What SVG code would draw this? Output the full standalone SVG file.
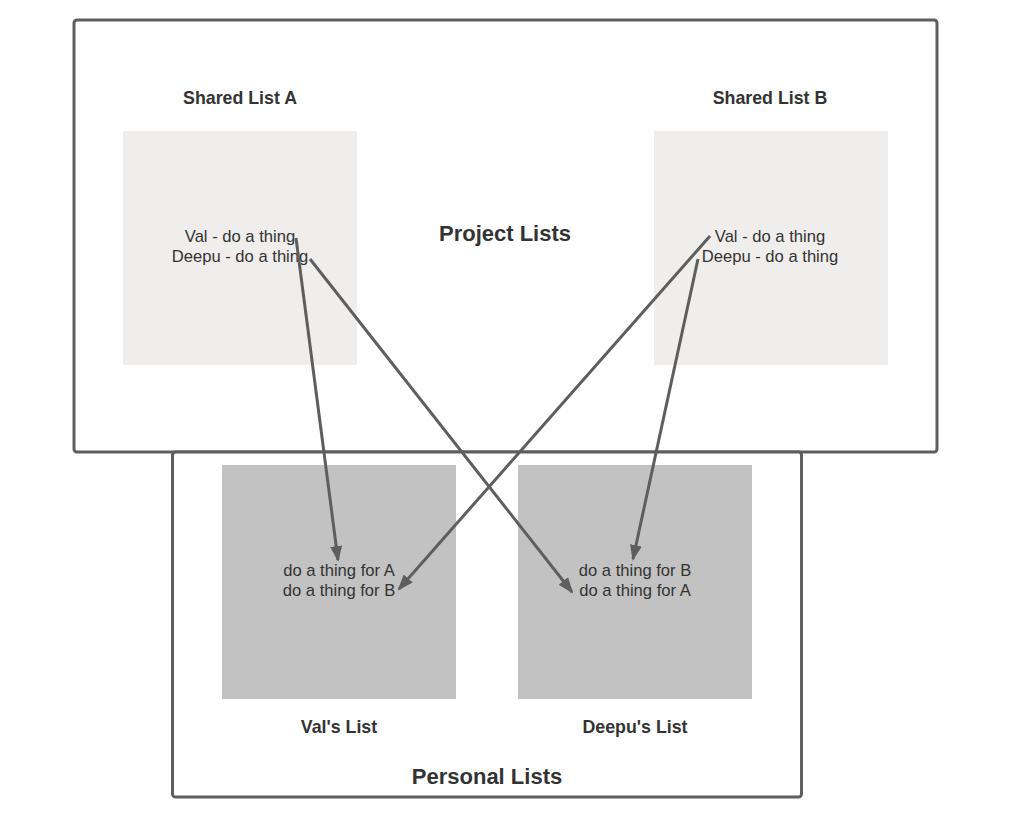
<svg xmlns="http://www.w3.org/2000/svg" width="1024" height="823" viewBox="0 0 1024 823">
<style>
.frame{fill:#ffffff;stroke:#5e5e5e;stroke-width:3}
.light{fill:#efeeec}
.dark{fill:#c2c2c2}
.t{font-family:"Liberation Sans",Arial,sans-serif;fill:#333333;text-anchor:middle}
.b{font-weight:bold;font-size:17.8px}
.big{font-weight:bold;font-size:22px}
.r{font-size:16.6px}
.conn{fill:none;stroke:#5e5e5e;stroke-width:3}
</style>
<defs>
<marker id="arr" markerUnits="userSpaceOnUse" markerWidth="17" markerHeight="12" viewBox="0 0 17 12" refX="14" refY="6" orient="auto">
<path d="M0,0 L16,6 L0,12 Z" fill="#5e5e5e"/>
</marker>
</defs>
<rect width="1024" height="823" fill="#ffffff"/>
<g id="project-lists">
<rect class="frame" x="74" y="20" width="863" height="432" rx="3"/>
<text class="t big" x="505" y="241">Project Lists</text>
</g>
<g id="personal-lists">
<rect class="frame" x="172.5" y="452" width="629" height="345" rx="3"/>
<text class="t big" x="487" y="784">Personal Lists</text>
</g>
<g id="shared-list-a">
<text class="t b" x="240" y="104">Shared List A</text>
<rect class="light" x="123" y="131" width="234" height="234"/>
<text class="t r" x="240" y="242">Val - do a thing</text>
<text class="t r" x="240" y="262">Deepu - do a thing</text>
</g>
<g id="shared-list-b">
<text class="t b" x="770" y="104">Shared List B</text>
<rect class="light" x="654" y="131" width="234" height="234"/>
<text class="t r" x="770" y="242">Val - do a thing</text>
<text class="t r" x="770" y="262">Deepu - do a thing</text>
</g>
<g id="vals-list">
<rect class="dark" x="222" y="465" width="234" height="234"/>
<text class="t r" x="339" y="576">do a thing for A</text>
<text class="t r" x="339" y="596">do a thing for B</text>
<text class="t b" x="339" y="733">Val's List</text>
</g>
<g id="deepus-list">
<rect class="dark" x="518" y="465" width="234" height="234"/>
<text class="t r" x="635" y="576">do a thing for B</text>
<text class="t r" x="635" y="596">do a thing for A</text>
<text class="t b" x="635" y="733">Deepu's List</text>
</g>
<g id="connectors">
<line class="conn" x1="296" y1="238" x2="338" y2="560" marker-end="url(#arr)"/>
<line class="conn" x1="310" y1="259" x2="572" y2="592" marker-end="url(#arr)"/>
<line class="conn" x1="710" y1="236" x2="399" y2="589" marker-end="url(#arr)"/>
<line class="conn" x1="698" y1="259" x2="633" y2="559" marker-end="url(#arr)"/>
</g>
</svg>
